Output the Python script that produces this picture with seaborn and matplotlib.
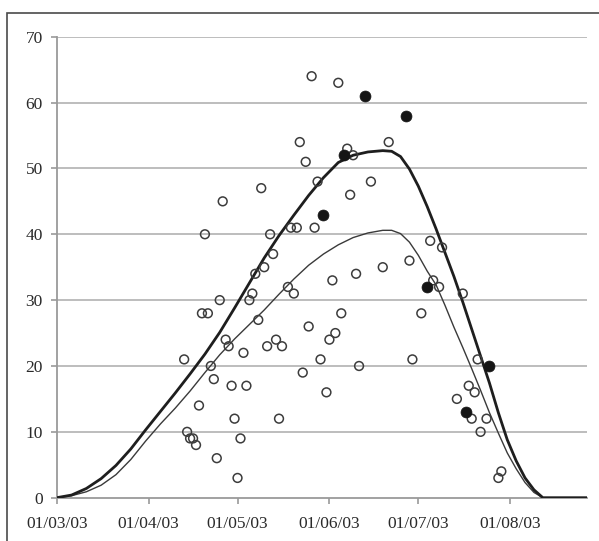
import numpy as np
import pandas as pd
import matplotlib
matplotlib.use("Agg")
import matplotlib.pyplot as plt
import matplotlib.dates as mdates
from matplotlib.patches import Rectangle
import seaborn as sns

# ---- data ----
open_dates = [
    "2003-04-13", "2003-04-14", "2003-04-15", "2003-04-16", "2003-04-17", "2003-04-18",
    "2003-04-19", "2003-04-20", "2003-04-21", "2003-04-22", "2003-04-23", "2003-04-24",
    "2003-04-25", "2003-04-26", "2003-04-27", "2003-04-28", "2003-04-29", "2003-04-30",
    "2003-05-01", "2003-05-02", "2003-05-03", "2003-05-04", "2003-05-05", "2003-05-06",
    "2003-05-07", "2003-05-08", "2003-05-09", "2003-05-10", "2003-05-11", "2003-05-12",
    "2003-05-13", "2003-05-14", "2003-05-15", "2003-05-16", "2003-05-18", "2003-05-19",
    "2003-05-20", "2003-05-21", "2003-05-22", "2003-05-23", "2003-05-24", "2003-05-25",
    "2003-05-26", "2003-05-27", "2003-05-28", "2003-05-29", "2003-05-31", "2003-06-01",
    "2003-06-02", "2003-06-03", "2003-06-04", "2003-06-05", "2003-06-07", "2003-06-08",
    "2003-06-09", "2003-06-10", "2003-06-11", "2003-06-15", "2003-06-19", "2003-06-21",
    "2003-06-28", "2003-06-29", "2003-07-02", "2003-07-05", "2003-07-06", "2003-07-08",
    "2003-07-09", "2003-07-14", "2003-07-16", "2003-07-18", "2003-07-19", "2003-07-20",
    "2003-07-21", "2003-07-22", "2003-07-24", "2003-07-28", "2003-07-29",
]
open_values = [
    21, 10, 9, 9, 8, 14,
    28, 40, 28, 20, 18, 6,
    30, 45, 24, 23, 17, 12,
    3, 9, 22, 17, 30, 31,
    34, 27, 47, 35, 23, 40,
    37, 24, 12, 23, 32, 41,
    31, 41, 54, 19, 51, 26,
    64, 41, 48, 21, 16, 24,
    33, 25, 63, 28, 53, 46,
    52, 34, 20, 48, 35, 54,
    36, 21, 28, 39, 33, 32,
    38, 15, 31, 17, 12, 16,
    21, 10, 12, 3, 4,
]

filled_dates = ["2003-05-30", "2003-06-06", "2003-06-13", "2003-06-27",
                "2003-07-04", "2003-07-17", "2003-07-25"]
filled_values = [43, 52, 61, 58, 32, 13, 20]

curve_dates = [
    "2003-03-01", "2003-03-06", "2003-03-11", "2003-03-16", "2003-03-21", "2003-03-26",
    "2003-03-31", "2003-04-05", "2003-04-10", "2003-04-15", "2003-04-20", "2003-04-25",
    "2003-04-30", "2003-05-05", "2003-05-10", "2003-05-15", "2003-05-20", "2003-05-25",
    "2003-05-30", "2003-06-04", "2003-06-09", "2003-06-14", "2003-06-19", "2003-06-22",
    "2003-06-25", "2003-06-28", "2003-07-01", "2003-07-04", "2003-07-07", "2003-07-10",
    "2003-07-13", "2003-07-16", "2003-07-19", "2003-07-22", "2003-07-25", "2003-07-28",
    "2003-07-31", "2003-08-03", "2003-08-06", "2003-08-09", "2003-08-12", "2003-08-27",
]
thick_curve = [
    0, 0.4, 1.4, 2.9, 4.9, 7.4,
    10.3, 13.1, 15.9, 18.8, 21.8, 25.1,
    28.8, 32.6, 36.4, 39.8, 42.9, 45.9,
    48.6, 50.9, 52.0, 52.5, 52.7, 52.6,
    51.8, 49.9, 47.3, 44.2, 40.8, 37.2,
    33.6, 29.7, 25.6, 21.5, 17.4, 12.9,
    8.8, 5.6, 3.0, 1.2, 0, 0,
]
thin_curve = [
    0, 0.3, 0.9, 1.9, 3.5, 5.8,
    8.6, 11.2, 13.6, 16.2, 19.0, 21.7,
    24.1, 26.3, 28.5, 30.9, 33.2, 35.3,
    37.0, 38.4, 39.5, 40.2, 40.6, 40.6,
    40.1, 38.8, 36.8, 34.4, 32.3, 29.2,
    25.9, 22.8, 19.6, 16.3, 12.9, 9.8,
    6.8, 4.4, 2.3, 0.8, 0, 0,
]

x_start = "2003-03-01"
x_end = "2003-08-27"
y_ticks = [0, 10, 20, 30, 40, 50, 60, 70]

# ---- build frames ----
df_open = pd.DataFrame({"date": pd.to_datetime(open_dates), "value": open_values})
df_filled = pd.DataFrame({"date": pd.to_datetime(filled_dates), "value": filled_values})
df_curve = pd.DataFrame({"date": pd.to_datetime(curve_dates),
                         "thick": thick_curve, "thin": thin_curve})

sns.set_style("white")
plt.rcParams["font.family"] = ["Liberation Serif", "DejaVu Serif"]

W, H = 599, 541
fig = plt.figure(figsize=(W / 100, H / 100), dpi=100)
ax = fig.add_axes([56.7 / W, 1 - 497.7 / H, (587.3 - 56.7) / W, (497.7 - 36.7) / H])

# outer frame (only top and left edges visible)
fig.patches.append(Rectangle((7 / W, -0.1), 2.0, 1 - 13.3 / H + 0.1,
                             transform=fig.transFigure, fill=False,
                             edgecolor="#4a4a4a", linewidth=1.2, zorder=0))

# gridlines
for yv in y_ticks[1:]:
    ax.axhline(yv, color="#b8b8b8", linewidth=1.3, zorder=1)

sns.lineplot(data=df_curve, x="date", y="thin", ax=ax, color="#3a3a3a",
             linewidth=1.0, sort=False, errorbar=None, zorder=3)
sns.lineplot(data=df_curve, x="date", y="thick", ax=ax, color="#1e1e1e",
             linewidth=2.0, sort=False, errorbar=None, zorder=3)

sns.scatterplot(data=df_open, x="date", y="value", ax=ax, s=40, marker="o",
                facecolor="none", edgecolor="#3c3c3c", linewidth=1.1, zorder=4)
sns.scatterplot(data=df_filled, x="date", y="value", ax=ax, s=62, marker="o",
                color="#151515", edgecolor="#151515", linewidth=0.5, zorder=5)

ax.set_xlim(pd.Timestamp(x_start), pd.Timestamp(x_end))
ax.set_ylim(0, 70)
ax.set_yticks(y_ticks)
ax.xaxis.set_major_locator(mdates.MonthLocator())
ax.xaxis.set_major_formatter(mdates.DateFormatter("%d/%m/%y"))
ax.set_xlabel("")
ax.set_ylabel("")

for side in ["top", "right"]:
    ax.spines[side].set_visible(False)
ax.spines["left"].set_color("#9a9a9a")
ax.spines["bottom"].set_color("#9a9a9a")
ax.spines["left"].set_linewidth(1.3)
ax.spines["bottom"].set_linewidth(1.3)

ax.tick_params(axis="y", which="major", direction="out", length=4, width=1.2,
               color="#9a9a9a", labelsize=12.5, labelcolor="#2a2a2a", pad=6, left=True)
ax.tick_params(axis="x", which="major", direction="out", length=4, width=1.2,
               color="#9a9a9a", labelsize=12.5, labelcolor="#2a2a2a", pad=9, bottom=True)

fig.savefig("out.png", dpi=100, facecolor="white")
